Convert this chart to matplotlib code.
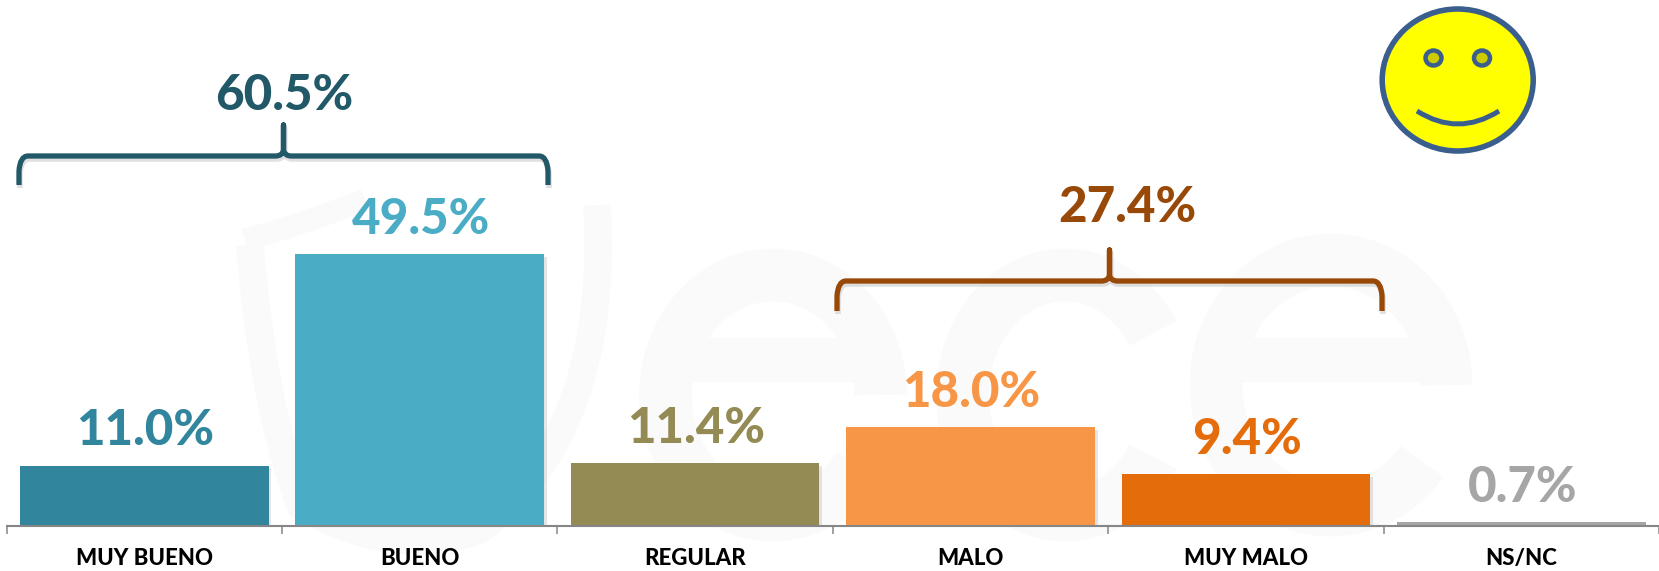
import matplotlib
matplotlib.use("Agg")
import matplotlib.pyplot as plt
import matplotlib.patheffects as pe
from matplotlib.patches import Ellipse, Arc, PathPatch
from matplotlib.path import Path

categories = ["MUY BUENO", "BUENO", "REGULAR", "MALO", "MUY MALO", "NS/NC"]
values = [11.0, 49.5, 11.4, 18.0, 9.4, 0.7]
bar_colors = ["#31859C", "#4BACC6", "#948A54", "#F79646", "#E46C0A", "#A6A6A6"]
group_labels = ["60.5%", "27.4%"]
group_colors = ["#215968", "#984807"]

W, H = 1659, 571
plt.rcParams["font.family"] = ["Lato", "DejaVu Sans"]
fig = plt.figure(figsize=(W / 100, H / 100), dpi=100, facecolor="white")

bg = fig.add_axes([0, 0, 1, 1], zorder=0)
fg = fig.add_axes([0, 0, 1, 1], zorder=2)
for a in (bg, fg):
    a.set_xlim(0, W)
    a.set_ylim(H, 0)
    a.axis("off")
    a.patch.set_alpha(0)

# faint watermark: cup outline and "ece" letters
wm = "#FAFAFA"
C3 = Path.CURVE3
bg.add_patch(PathPatch(Path([(250, 245), (262, 400), (300, 505), (390, 560), (480, 530),
                             (610, 430), (597, 205)],
                            [Path.MOVETO, C3, C3, C3, C3, C3, C3]),
                       fill=False, ec=wm, lw=20))
bg.add_patch(PathPatch(Path([(245, 240), (300, 225), (365, 200)],
                            [Path.MOVETO, C3, C3]), fill=False, ec=wm, lw=16))
bg.add_patch(Arc((773, 395), 215, 240, theta1=40, theta2=360, lw=38, color=wm))
bg.plot([670, 878], [360, 360], color=wm, lw=32, solid_capstyle="butt")
bg.add_patch(Arc((1065, 395), 205, 240, theta1=35, theta2=325, lw=38, color=wm))
bg.add_patch(Arc((1331, 385), 230, 250, theta1=40, theta2=360, lw=38, color=wm))
bg.plot([1220, 1446], [360, 360], color=wm, lw=32, solid_capstyle="butt")

ax = fig.add_axes([6.5 / W, 45 / H, (W - 6.5) / W, (H - 45) / H], zorder=1)
ax.patch.set_alpha(0)
x = list(range(len(categories)))
bars = ax.bar(x, values, width=0.903, color=bar_colors)
for b in bars:
    b.set_path_effects([pe.SimplePatchShadow(offset=(2, -2), shadow_rgbFace="#999999", alpha=0.25),
                        pe.Normal()])
ax.set_xlim(-0.5, 5.5)
ax.set_ylim(0, 526 / 5.49)
for s in ("top", "left", "right"):
    ax.spines[s].set_visible(False)
ax.spines["bottom"].set_color("#868686")
ax.spines["bottom"].set_linewidth(1.5)
ax.set_yticks([])
ax.set_xticks([i - 0.5 for i in range(len(categories) + 1)])
ax.set_xticklabels([])
ax.tick_params(axis="x", which="major", length=6, width=1.1, color="#868686")
ax.set_xticks(x, minor=True)
ax.set_xticklabels(categories, minor=True, fontsize=16, fontweight=900, color="black")
ax.tick_params(axis="x", which="minor", length=0, pad=16)
for xi, v, c in zip(x, values, bar_colors):
    ax.annotate(f"{v:.1f}%", (xi, v), xytext=(1, 35), textcoords="offset pixels",
                ha="center", va="center", fontsize=35.5, fontweight=900, color=c)


def brace(x0, x1, ytop, ybot, ytip, color):
    xm = (x0 + x1) / 2
    r = 9
    verts = [(x0, ybot), (x0, ytop + r + 6), (x0 + 1, ytop), (x0 + r, ytop),
             (xm - 8, ytop), (xm - 1, ytop), (xm, ytop - 6), (xm, ytip),
             (xm, ytop - 6), (xm + 1, ytop), (xm + 8, ytop),
             (x1 - r, ytop), (x1 - 1, ytop), (x1, ytop + r + 6), (x1, ybot)]
    codes = [Path.MOVETO, Path.LINETO, C3, C3,
             Path.LINETO, C3, C3, Path.LINETO,
             Path.LINETO, C3, C3,
             Path.LINETO, C3, C3, Path.LINETO]
    sh = [(a + 1, b + 3) for a, b in verts]
    fg.add_patch(PathPatch(Path(sh, codes), fill=False, lw=4, ec="#BBBBBB", alpha=0.45,
                           capstyle="butt", joinstyle="round"))
    fg.add_patch(PathPatch(Path(verts, codes), fill=False, lw=3.8, ec=color,
                           capstyle="butt", joinstyle="round"))


brace(19, 548, 156, 185, 125, group_colors[0])
brace(837, 1382, 281, 311, 250, group_colors[1])
fg.text(284, 95, group_labels[0], ha="center", va="center", fontsize=35.5,
        fontweight=900, color=group_colors[0])
fg.text(1127, 207, group_labels[1], ha="center", va="center", fontsize=35.5,
        fontweight=900, color=group_colors[1])

face = "#3A5F8F"
fg.add_patch(Ellipse((1457.7, 80), 151, 142, fc="#FFFF00", ec=face, lw=4))
for ex in (1433.5, 1482):
    fg.add_patch(Ellipse((ex, 58), 16, 15, fc="#CCCC00", ec=face, lw=3.2))
fg.add_patch(PathPatch(Path([(1417, 111), (1458, 137), (1499, 111)],
                            [Path.MOVETO, C3, C3]),
                       fill=False, ec=face, lw=3.6))

fig.savefig("out.png", dpi=100)
